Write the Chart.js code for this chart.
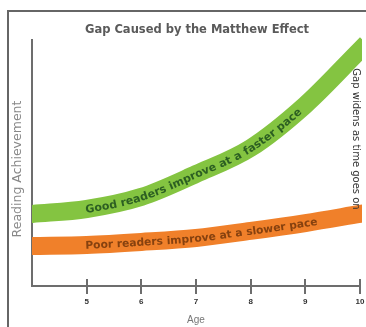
<!DOCTYPE html>
<html>
<head>
<meta charset="utf-8">
<script src="https://cdn.jsdelivr.net/npm/chart.js@4"></script>
<style>
  html, body { margin: 0; padding: 0; background: #fff; overflow: hidden; }
  #wrap { width: 366px; height: 327px; }
  canvas { display: block; }
</style>
</head>
<body>
<div id="wrap"><canvas id="chartCanvas" width="366" height="327"></canvas></div>
<script>
// ages along the x axis
const ages = [4, 5, 6, 7, 8, 9, 10]
const tickAges = [5, 6, 7, 8, 9, 10]
// reading achievement (0-100)
const goodReaders = [29.3, 31.3, 36.2, 45.5, 56.1, 73.6, 95.9]
const poorReaders = [16.3, 16.7, 17.9, 19.5, 22.4, 25.6, 29.3]

const titleText = 'Gap Caused by the Matthew Effect'
const yTitle = 'Reading Achievement'
const goodLabel = 'Good readers improve at a faster pace'
const poorLabel = 'Poor readers improve at a slower pace'
const gapLabel = 'Gap widens as time goes on'

// sample the drawn spline of a dataset into a polyline
function samplePath(meta) {
  const pts = meta.data
  const out = [{ x: pts[0].x, y: pts[0].y }]
  for (let i = 1; i < pts.length; i++) {
    const a = pts[i - 1], b = pts[i]
    const c1x = a.cp2x ?? a.x, c1y = a.cp2y ?? a.y
    const c2x = b.cp1x ?? b.x, c2y = b.cp1y ?? b.y
    for (let k = 1; k <= 40; k++) {
      const t = k / 40, u = 1 - t
      out.push({
        x: u*u*u*a.x + 3*u*u*t*c1x + 3*u*t*t*c2x + t*t*t*b.x,
        y: u*u*u*a.y + 3*u*u*t*c1y + 3*u*t*t*c2y + t*t*t*b.y
      })
    }
  }
  let len = 0
  out[0].s = 0
  for (let i = 1; i < out.length; i++) {
    len += Math.hypot(out[i].x - out[i-1].x, out[i].y - out[i-1].y)
    out[i].s = len
  }
  return out
}

function pointAt(path, s) {
  for (let i = 1; i < path.length; i++) {
    if (path[i].s >= s) {
      const a = path[i-1], b = path[i]
      const f = (s - a.s) / ((b.s - a.s) || 1)
      return { x: a.x + (b.x - a.x) * f, y: a.y + (b.y - a.y) * f, ang: Math.atan2(b.y - a.y, b.x - a.x) }
    }
  }
  const a = path[path.length - 2], b = path[path.length - 1]
  return { x: b.x, y: b.y, ang: Math.atan2(b.y - a.y, b.x - a.x) }
}

function textOnPath(ctx, path, text, startX, font, color) {
  ctx.save()
  ctx.font = font
  ctx.fillStyle = color
  ctx.textAlign = 'center'
  ctx.textBaseline = 'middle'
  // start where the path passes startX
  let s = 0
  for (const p of path) { if (p.x >= startX) { s = p.s; break } }
  for (const ch of text) {
    const w = ctx.measureText(ch).width
    const p = pointAt(path, s + w / 2)
    ctx.save()
    ctx.translate(p.x, p.y)
    ctx.rotate(p.ang)
    ctx.fillText(ch, 0, 1)
    ctx.restore()
    s += w
  }
  ctx.restore()
}

const decorations = {
  id: 'decorations',
  afterDatasetsDraw(chart) {
    const ctx = chart.ctx
    const x = chart.scales.x
    const area = chart.chartArea

    ctx.save()
    // frame round the picture (left and top only)
    ctx.fillStyle = '#666'
    ctx.fillRect(7, 10, 2, 317)
    ctx.fillRect(7, 10, 359, 2)

    // title over the plot area
    ctx.font = 'bold 11.5px "DejaVu Sans", sans-serif'
    ctx.fillStyle = '#5a5a5a'
    ctx.textAlign = 'center'
    ctx.textBaseline = 'middle'
    ctx.fillText(titleText, (area.left + area.right) / 2 + 1, 30)

    // y axis title
    ctx.save()
    ctx.translate(18, 169)
    ctx.rotate(-Math.PI / 2)
    ctx.font = '12.5px "DejaVu Sans", sans-serif'
    ctx.fillStyle = '#888'
    ctx.fillText(yTitle, 0, 0)
    ctx.restore()

    // tick marks crossing the x axis
    ctx.fillStyle = '#6d6d6d'
    tickAges.forEach(a => {
      const px = Math.round(x.getPixelForValue(a))
      ctx.fillRect(px - 1, area.bottom - 7, 2, 15)
    })
    ctx.restore()

    // labels along the bands
    const gPath = samplePath(chart.getDatasetMeta(0))
    const pPath = samplePath(chart.getDatasetMeta(1))
    textOnPath(ctx, gPath, goodLabel, x.getPixelForValue(5) - 2, 'bold 11px "DejaVu Sans", sans-serif', '#2c5f22')
    textOnPath(ctx, pPath, poorLabel, x.getPixelForValue(5) - 2, 'bold 10.7px "DejaVu Sans", sans-serif', '#86410f')

    // vertical gap note at the right
    ctx.save()
    ctx.translate(x.getPixelForValue(10) - 4, 139)
    ctx.rotate(Math.PI / 2)
    ctx.font = '10px "DejaVu Sans", sans-serif'
    ctx.fillStyle = '#333'
    ctx.textAlign = 'center'
    ctx.textBaseline = 'middle'
    ctx.fillText(gapLabel, 0, 0)
    ctx.restore()
  }
}

const chart = new Chart(document.getElementById('chartCanvas'), {
  type: 'line',
  data: {
    labels: ages,
    datasets: [
      {
        label: 'Good readers',
        data: ages.map((a, i) => ({ x: a, y: goodReaders[i] })),
        borderColor: '#84c441',
        borderWidth: 18,
        borderCapStyle: 'square',
        cubicInterpolationMode: 'monotone',
        pointRadius: 0,
        fill: false,
        clip: { left: 0, top: 20, right: 2, bottom: 0 }
      },
      {
        label: 'Poor readers',
        data: ages.map((a, i) => ({ x: a, y: poorReaders[i] })),
        borderColor: '#f0802a',
        borderWidth: 18,
        borderCapStyle: 'square',
        cubicInterpolationMode: 'monotone',
        pointRadius: 0,
        fill: false,
        clip: { left: 0, top: 20, right: 2, bottom: 0 }
      }
    ]
  },
  options: {
    responsive: false,
    animation: false,
    events: [],
    layout: { padding: { left: 0, right: 6, top: 40, bottom: 0 } },
    plugins: {
      legend: { display: false },
      tooltip: { enabled: false },
      title: { display: false }
    },
    scales: {
      x: {
        type: 'linear',
        min: 4,
        max: 10,
        grid: { display: false, drawTicks: false },
        border: { display: true, color: '#6d6d6d', width: 2 },
        ticks: {
          stepSize: 1,
          padding: 11,
          color: '#333',
          font: { family: '"Liberation Sans", Arial, sans-serif', size: 8, weight: 'bold' },
          callback: v => tickAges.includes(v) ? String(v) : ''
        },
        title: {
          display: true,
          text: 'Age',
          color: '#777',
          font: { family: '"Liberation Sans", Arial, sans-serif', size: 10 },
          padding: { top: 0, bottom: 1 }
        },
        afterFit: s => { s.height = 41; s.paddingLeft = 0; s.paddingRight = 0 }
      },
      y: {
        min: 0,
        max: 100,
        grid: { display: false, drawTicks: false },
        border: { display: true, color: '#6d6d6d', width: 2 },
        ticks: { display: false },
        title: { display: false },
        afterFit: s => { s.width = 32 }
      }
    }
  },
  plugins: [decorations]
})
</script>
</body>
</html>
